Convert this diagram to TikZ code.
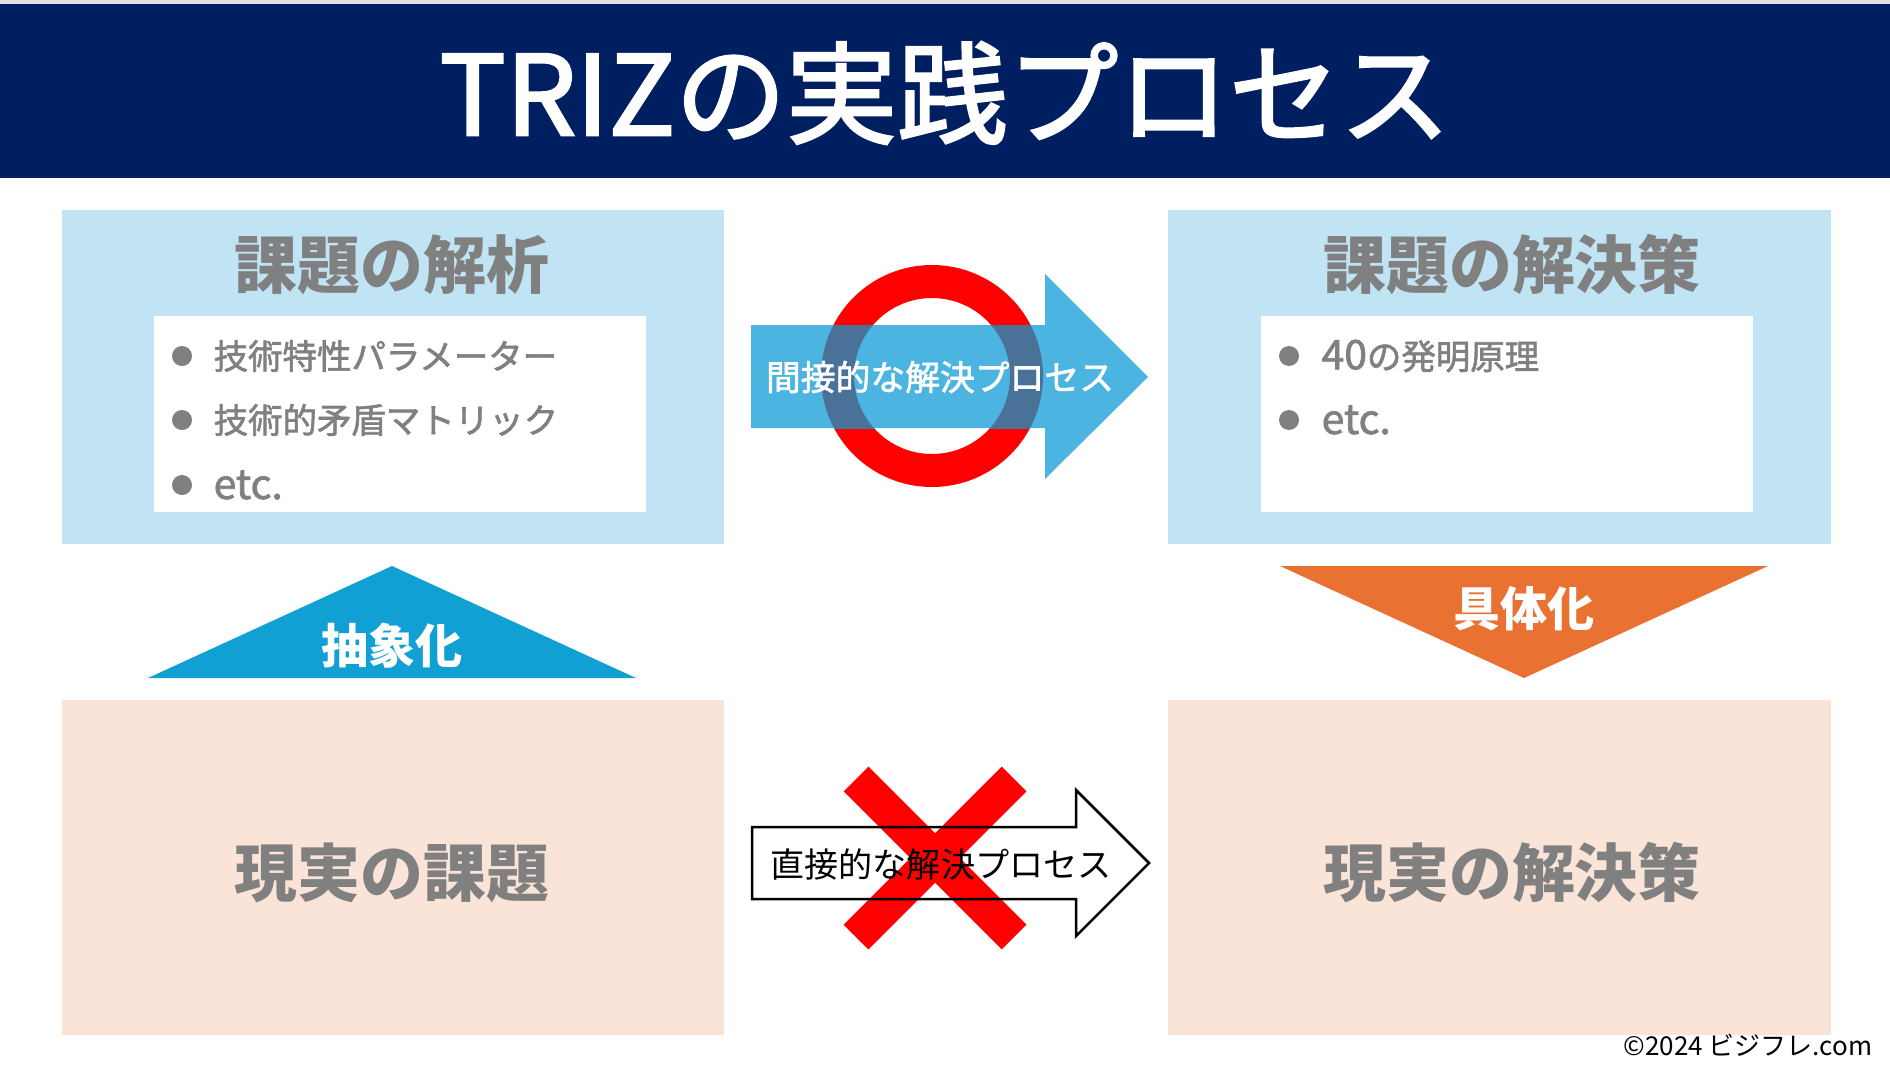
\documentclass[tikz,border=0pt]{standalone}
\usepackage{fontspec}
\setmainfont{Noto Sans CJK JP}
\newfontfamily\jp{Noto Sans CJK JP}
\newfontfamily\jpmid[FakeBold=1.8]{Noto Sans CJK JP}
\newfontfamily\jptitle[FakeBold=2.2]{Noto Sans CJK JP}
\definecolor{navy}{RGB}{0,31,96}
\definecolor{lblue}{RGB}{193,228,244}
\definecolor{peach}{RGB}{250,227,215}
\definecolor{txtgray}{RGB}{128,128,128}
\definecolor{arrblue}{RGB}{75,180,225}
\definecolor{triblue}{RGB}{16,160,211}
\definecolor{triorange}{RGB}{233,113,50}
\definecolor{overlap}{RGB}{74,114,153}
\definecolor{topgray}{RGB}{225,225,225}
\newcommand{\latinbig}[1]{{\fontsize{11.6pt}{12pt}\selectfont #1}}
\begin{document}
\begin{tikzpicture}[x=0.1mm,y=-0.1mm,
  panel/.style={draw=none,inner sep=0pt,outer sep=0pt},
  bigtitle/.style={text=txtgray,inner sep=0pt,font=\jp\bfseries\fontsize{17.9pt}{20pt}\selectfont},
  bullettext/.style={text=txtgray,inner sep=0pt,anchor=west,font=\jpmid\fontsize{9.8pt}{11pt}\selectfont},
  bulletdot/.style={circle,fill=txtgray,inner sep=0pt,minimum size=2mm},
  tritext/.style={text=white,inner sep=0pt,font=\jp\bfseries\fontsize{13.4pt}{15pt}\selectfont}]
\useasboundingbox (0,0) rectangle (1890,1067);
\fill[white] (0,0) rectangle (1890,1067);
% header
\fill[topgray] (0,0) rectangle (1890,4);
\node[panel,fill=navy,minimum width=189mm,minimum height=17.4mm] (header) at (945,91) {};
\node[text=white,inner sep=0pt,font=\jptitle\fontsize{31.5pt}{33pt}\selectfont] (title) at (945,93) {TRIZの実践プロセス};
% boxes
\node[panel,fill=lblue,minimum width=66.2mm,minimum height=33.4mm] (tl) at (393,377) {};
\node[panel,fill=lblue,minimum width=66.3mm,minimum height=33.4mm] (tr) at (1499.5,377) {};
\node[panel,fill=peach,minimum width=66.2mm,minimum height=33.5mm] (bl) at (393,867.5) {};
\node[panel,fill=peach,minimum width=66.3mm,minimum height=33.5mm] (br) at (1499.5,867.5) {};
\node[panel,fill=white,minimum width=49.2mm,minimum height=19.6mm] (tlin) at (400,414) {};
\node[panel,fill=white,minimum width=49.2mm,minimum height=19.6mm] (trin) at (1507,414) {};
% box titles
\node[bigtitle] (tlt) at (392,265) {課題の解析};
\node[bigtitle] (trt) at (1512,265) {課題の解決策};
\node[bigtitle] (blt) at (392,873) {現実の課題};
\node[bigtitle] (brt) at (1512,873) {現実の解決策};
% bullets left
\node[bulletdot] (d1) at (182,356) {};
\node[bullettext] (b1) at (213,356) {技術特性パラメーター};
\node[bulletdot] (d2) at (182,420) {};
\node[bullettext] (b2) at (213,420) {技術的矛盾マトリック};
\node[bulletdot] (d3) at (182,485) {};
\node[bullettext] (b3) at (213,485) {\latinbig{etc.}};
% bullets right
\node[bulletdot] (d4) at (1289,356) {};
\node[bullettext] (b4) at (1321,356) {\latinbig{40}の発明原理};
\node[bulletdot] (d5) at (1289,420) {};
\node[bullettext] (b5) at (1321,420) {\latinbig{etc.}};
% triangles
\fill[triblue] (148,678) -- (392,566) -- (636,678) -- cycle;
\node[tritext] (abs) at (392,646) {抽象化};
\fill[triorange] (1280,566) -- (1768,566) -- (1524,678) -- cycle;
\node[tritext] (con) at (1524,609) {具体化};
% indirect arrow with circle
\coordinate (oc) at (932,376);
\draw[red,line width=3.3mm] (oc) circle (94.5);
\fill[arrblue] (751,325) -- (1045,325) -- (1045,274) -- (1148,377) -- (1045,479) -- (1045,428) -- (751,428) -- cycle;
\begin{scope}
\clip (751,325) rectangle (1045,428);
\draw[overlap,line width=3.3mm] (oc) circle (94.5);
\end{scope}
\node[text=white,inner sep=0pt,font=\jpmid\fontsize{9.9pt}{11pt}\selectfont] (ind) at (940,377) {間接的な解決プロセス};
% direct arrow with cross
\coordinate (x1) at (856,779);
\coordinate (x2) at (1014,937);
\coordinate (x3) at (1014,779);
\coordinate (x4) at (856,937);
\draw[red,line width=3.5mm] (x1) -- (x2);
\draw[red,line width=3.5mm] (x3) -- (x4);
\draw[black,line width=0.25mm,line join=miter] (752,827) -- (1076,827) -- (1076,790) -- (1149,863) -- (1076,936) -- (1076,899) -- (752,899) -- cycle;
\node[text=black,inner sep=0pt,font=\jp\fontsize{9.7pt}{11pt}\selectfont] (dir) at (941,864) {直接的な解決プロセス};
% copyright
\node[text=black,inner sep=0pt,anchor=base east,font=\jp\fontsize{7.4pt}{8pt}\selectfont] (copy) at (1873,1055) {©2024 ビジフレ.com};
\end{tikzpicture}
\end{document}
